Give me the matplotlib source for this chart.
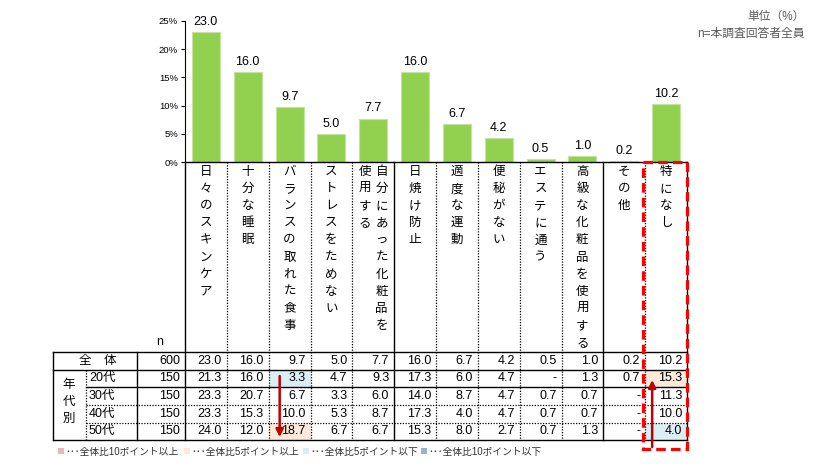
import matplotlib
matplotlib.use("Agg")
import matplotlib.pyplot as plt
import numpy as np
from matplotlib.patches import Rectangle

plt.rcParams['font.family'] = ['Liberation Sans', 'Noto Sans CJK JP', 'DejaVu Sans']

# ---- data ----
categories = ["日々のスキンケア", "十分な睡眠", "バランスの取れた食事", "ストレスをためない",
              "自分にあった化粧品を\n使用する", "日焼け防止", "適度な運動", "便秘がない",
              "エステに通う", "高級な化粧品を使用する", "その他", "特になし"]
total = [23.0, 16.0, 9.7, 5.0, 7.7, 16.0, 6.7, 4.2, 0.5, 1.0, 0.2, 10.2]
n_total = 600
age_groups = ["20代", "30代", "40代", "50代"]
age_n = [150, 150, 150, 150]
age_values = [
    [21.3, 16.0, 3.3, 4.7, 9.3, 17.3, 6.0, 4.7, None, 1.3, 0.7, 15.3],
    [23.3, 20.7, 6.7, 3.3, 6.0, 14.0, 8.7, 4.7, 0.7, 0.7, None, 11.3],
    [23.3, 15.3, 10.0, 5.3, 8.7, 17.3, 4.0, 4.7, 0.7, 0.7, None, 10.0],
    [24.0, 12.0, 18.7, 6.7, 6.7, 15.3, 8.0, 2.7, 0.7, 1.3, None, 4.0],
]
yticks = [0, 5, 10, 15, 20, 25]
legend_labels = ["･･･全体比10ポイント以上", "･･･全体比5ポイント以上",
                 "･･･全体比5ポイント以下", "･･･全体比10ポイント以下"]
legend_colors = ["#E6B8B7", "#FDE9D9", "#DAEEF3", "#95B3D7"]


def cell_color(v, t):
    if v is None:
        return None
    d = v - t
    if d >= 10:
        return legend_colors[0]
    if d >= 5:
        return legend_colors[1]
    if d <= -10:
        return legend_colors[3]
    if d <= -5:
        return legend_colors[2]
    return None


# ---- layout (pixels) ----
W, H = 821, 465
X0, X1 = 185, 687
Y_BASE, Y_TOP = 162, 21
fig = plt.figure(figsize=(W / 100, H / 100), dpi=100, facecolor='white')

ax = fig.add_axes([X0 / W, 1 - Y_BASE / H, (X1 - X0) / W, (Y_BASE - Y_TOP) / H])
x = np.arange(len(total))
bars = ax.bar(x, total, width=0.67, color='#92D050', edgecolor='#C5E3A0', linewidth=0.8)
ax.bar_label(bars, labels=[f"{v:.1f}" for v in total], padding=3, fontsize=9)
ax.set_xlim(-0.5, len(total) - 0.5)
ax.set_ylim(0, 25)
ax.set_yticks(yticks)
ax.set_yticklabels([f"{t}%" for t in yticks], fontsize=6.8)
ax.tick_params(axis='x', length=0, labelbottom=False)
ax.tick_params(axis='y', length=3, width=0.8, pad=2)
ax.spines['top'].set_visible(False)
ax.spines['right'].set_visible(False)
ax.spines['left'].set_linewidth(0.8)
ax.spines['bottom'].set_linewidth(1.0)
ax.patch.set_visible(False)

# ---- table ----
tb = fig.add_axes([0, 0, 1, 1])
tb.set_xlim(0, W)
tb.set_ylim(H, 0)
tb.axis('off')

ncol = len(total)
col_w = (X1 - X0) / ncol
col_edges = X0 + col_w * np.arange(ncol + 1)
row_edges = [352, 369.5, 387, 405, 422.5, 440]
solid = dict(color='black', lw=1.0)
dotted = dict(color='black', lw=0.9, linestyle=(0, (1, 1.2)))

# highlight cells
for r, row in enumerate(age_values):
    for j, v in enumerate(row):
        c = cell_color(v, total[j])
        if c:
            tb.add_patch(Rectangle((col_edges[j], row_edges[r + 1]), col_w,
                                   row_edges[r + 2] - row_edges[r + 1],
                                   facecolor=c, edgecolor='none', zorder=1))

# vertical lines
for i, xe in enumerate(col_edges):
    st = solid if i in (0, 5, 10, ncol) else dotted
    tb.plot([xe, xe], [Y_BASE, row_edges[-1]], **st, zorder=2)
tb.plot([53, 53], [row_edges[0], row_edges[-1]], **solid, zorder=2)
tb.plot([137, 137], [row_edges[0], row_edges[-1]], **solid, zorder=2)
tb.plot([86, 86], [row_edges[1], row_edges[-1]], **dotted, zorder=2)

# horizontal lines
tb.plot([53, X1], [row_edges[0]] * 2, **solid, zorder=2)
tb.plot([53, X1], [row_edges[1]] * 2, **solid, zorder=2)
tb.plot([86, X1], [row_edges[2]] * 2, **solid, zorder=2)
tb.plot([86, X1], [row_edges[3]] * 2, **dotted, zorder=2)
tb.plot([86, X1], [row_edges[4]] * 2, **dotted, zorder=2)
tb.plot([53, X1], [row_edges[5]] * 2, **solid, zorder=2)

# vertical category labels
char_step = 17.1
for j, lab in enumerate(categories):
    cols = lab.split("\n")
    cx = (col_edges[j] + col_edges[j + 1]) / 2
    offs = [0] if len(cols) == 1 else [8.5, -8.5]
    for k, s in enumerate(cols):
        for m, ch in enumerate(s):
            tb.text(cx + offs[k], 172 + m * char_step, ch, ha='center', va='center',
                    fontsize=9, zorder=3)

tb.text(160, 342, "n", ha='center', va='center', fontsize=9)

# table texts
def fmt(v):
    return "-" if v is None else f"{v:.1f}"

rc = [(row_edges[i] + row_edges[i + 1]) / 2 for i in range(5)]
tb.text(98, rc[0], "全　体", ha='center', va='center', fontsize=9)
tb.text(180, rc[0], str(n_total), ha='right', va='center', fontsize=9)
for j, v in enumerate(total):
    tb.text(col_edges[j + 1] - 5, rc[0], fmt(v), ha='right', va='center', fontsize=9, zorder=3)
for m, ch in enumerate("年代別"):
    tb.text(69, 385 + m * 17, ch, ha='center', va='center', fontsize=9)
for r, g in enumerate(age_groups):
    tb.text(89, rc[r + 1], g, ha='left', va='center', fontsize=9)
    tb.text(180, rc[r + 1], str(age_n[r]), ha='right', va='center', fontsize=9)
    for j, v in enumerate(age_values[r]):
        tb.text(col_edges[j + 1] - 5, rc[r + 1], fmt(v), ha='right', va='center',
                fontsize=9, zorder=3)

# arrows
arrow = dict(arrowstyle='-|>', color='#C00000', lw=1.8, mutation_scale=11,
             shrinkA=0, shrinkB=0)
tb.annotate("", xy=(col_edges[2] + 11, 437), xytext=(col_edges[2] + 11, 376),
            arrowprops=arrow, zorder=4)
tb.annotate("", xy=(col_edges[11] + 7, 380), xytext=(col_edges[11] + 7, 447),
            arrowprops=arrow, zorder=4)

# red dashed box around 特になし
tb.add_patch(Rectangle((col_edges[11] - 2, Y_BASE), col_w + 2, 449 - Y_BASE, fill=False,
                       edgecolor='#FF0000', lw=2.3, linestyle=(0, (3, 1.6)), zorder=5))

# legend
for xs, lab, c in zip([58, 184, 303, 421], legend_labels, legend_colors):
    tb.add_patch(Rectangle((xs, 448), 6, 6, facecolor=c, edgecolor='none'))
    tb.text(xs + 7, 451.5, lab, ha='left', va='center', fontsize=7, color='#303030')

# unit notes
tb.text(805, 17, "単位（%）", ha='right', va='center', fontsize=8.5, color='#595959')
tb.text(805, 34, "n=本調査回答者全員", ha='right', va='center', fontsize=8.5, color='#595959')

fig.savefig("out.png", dpi=100)
